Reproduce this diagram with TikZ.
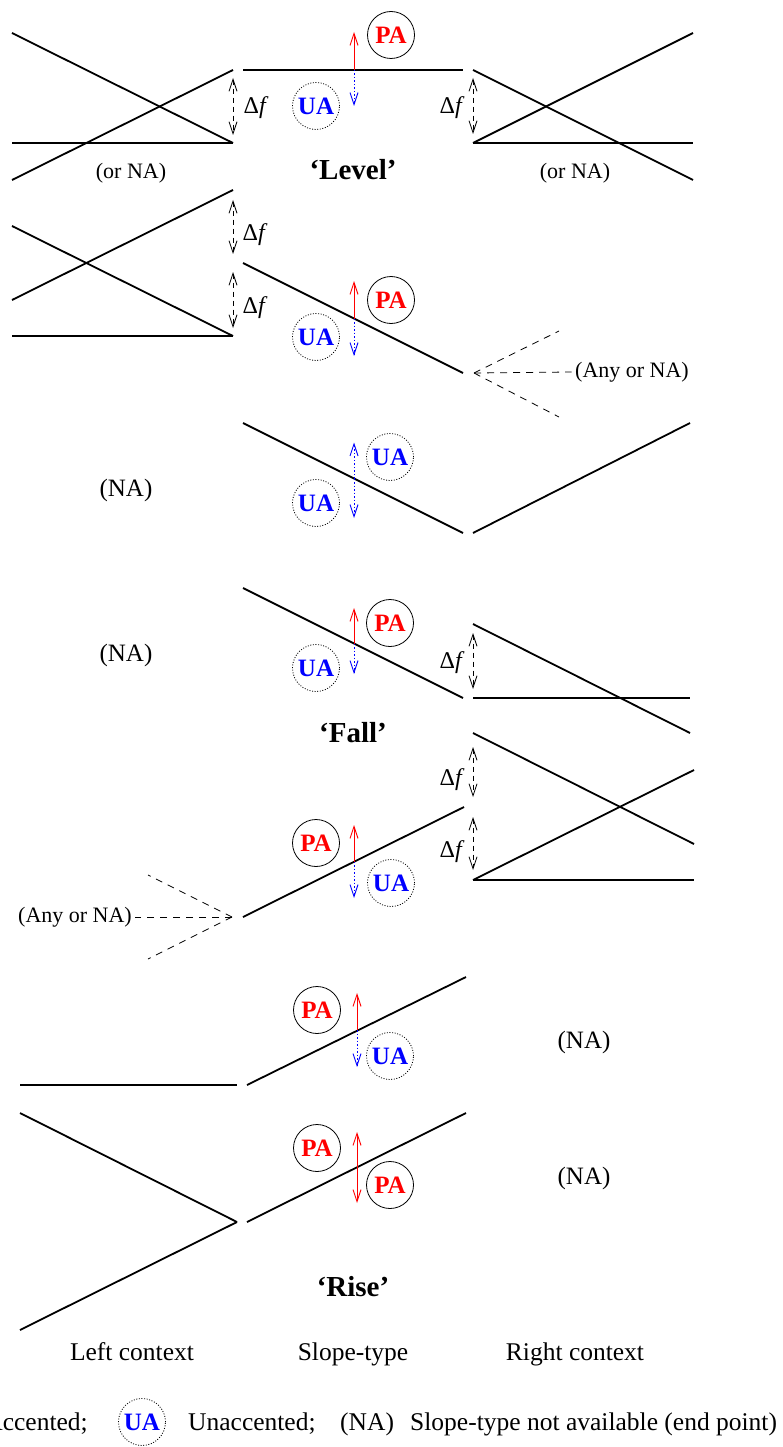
\documentclass[tikz,border=0pt]{standalone}
\usepackage{fontspec}
\setmainfont{Liberation Serif}
\usetikzlibrary{arrows.meta}
\usepackage{xcolor}
\definecolor{accred}{HTML}{FF0000}
\definecolor{unaccblue}{HTML}{0000FF}

\begin{document}
\begin{tikzpicture}[x=1pt,y=-1pt,
    contour/.style={line width=1.8pt},
    anyctx/.style={line width=0.8pt,dash pattern=on 7pt off 6pt},
    barb/.style={-{Straight Barb[length=12pt,width=8pt]}},
    upacc/.style={barb,accred,line width=0.9pt},
    dnunacc/.style={barb,unaccblue,line width=0.9pt,dash pattern=on 1.5pt off 2pt},
    deltaf/.style={{Straight Barb[length=12pt,width=8pt]}-{Straight Barb[length=12pt,width=8pt]},
                   line width=0.8pt,dash pattern=on 5pt off 4pt},
    pamark/.style={circle,draw,line width=0.8pt,minimum size=47pt,inner sep=0pt,
                   text=accred,font=\bfseries\fontsize{25}{25}\selectfont},
    uamark/.style={pamark,text=unaccblue,dash pattern=on 1pt off 1.6pt},
    ctxlabel/.style={font=\fontsize{22}{24}\selectfont},
    nalabel/.style={font=\fontsize{25}{28}\selectfont},
    dflabel/.style={font=\fontsize{24}{26}\selectfont},
    slopename/.style={anchor=base,font=\bfseries\fontsize{29}{32}\selectfont},
    collabel/.style={anchor=base,font=\fontsize{25.5}{28}\selectfont}]
  \useasboundingbox (0,0) rectangle (783,1447);

  % ---- 'Level' ----
  \coordinate (lvS) at (243,70);
  \coordinate (lvE) at (463,70);
  \coordinate (lvA) at (354,70);
  \draw[contour] (lvS) -- (lvE);
  \coordinate (lvLt) at (233,70);
  \coordinate (lvLb) at (233,143);
  \coordinate (lvRt) at (473,70);
  \coordinate (lvRb) at (473,143);
  \draw[contour] (12,33) -- (lvLb);
  \draw[contour] (12,143) -- (lvLb);
  \draw[contour] (12,180) -- (lvLt);
  \draw[contour] (lvRt) -- (693,180);
  \draw[contour] (lvRb) -- (693,143);
  \draw[contour] (lvRb) -- (693,33);
  \draw[deltaf,shorten <=8pt,shorten >=8pt] (lvLt) -- (lvLb);
  \draw[deltaf,shorten <=8pt,shorten >=9pt] (lvRt) -- (lvRb);
  \node[dflabel] (lvDfL) at (256,108) {Δ\textit{f}};
  \node[dflabel] (lvDfR) at (452,108) {Δ\textit{f}};
  \draw[upacc] (lvA) -- ++(0,-38);
  \draw[dnunacc] (lvA) -- ++(0,36);
  \node[pamark] (lvPA) at (391,35) {PA};
  \node[uamark] (lvUA) at (316,106) {UA};
  \node[ctxlabel] (lvNAL) at (131,173) {(or NA)};
  \node[ctxlabel] (lvNAR) at (575,173) {(or NA)};
  \node[slopename] (lvName) at (353,180) {‘Level’};

  % ---- 'Fall' from a rise or fall ----
  \coordinate (faS) at (243,263);
  \coordinate (faE) at (463,373);
  \coordinate (faA) at (354,318.5);
  \draw[contour] (faS) -- (faE);
  \coordinate (faLt) at (233,190);
  \coordinate (faLm) at (233,263);
  \coordinate (faLb) at (233,336);
  \draw[contour] (12,300) -- (faLt);
  \draw[contour] (12,226) -- (faLb);
  \draw[contour] (12,336) -- (faLb);
  \draw[deltaf,shorten <=10pt,shorten >=9pt] (faLt) -- (faLm);
  \draw[deltaf,shorten <=9pt,shorten >=8pt] (faLm) -- (faLb);
  \node[dflabel] (faDfU) at (255,235) {Δ\textit{f}};
  \node[dflabel] (faDfD) at (255,308) {Δ\textit{f}};
  \draw[upacc] (faA) -- ++(0,-37.5);
  \draw[dnunacc] (faA) -- ++(0,37.5);
  \node[pamark] (faPA) at (391,300) {PA};
  \node[uamark] (faUA) at (316,337) {UA};
  \coordinate (faFork) at (474,373);
  \node[ctxlabel] (faAny) at (632,372) {(Any or NA)};
  \draw[anyctx] (faFork) -- (559,331);
  \draw[anyctx] (faFork) -- (faAny.west);
  \draw[anyctx] (faFork) -- (559,417);

  % ---- fall at the start, rise after ----
  \coordinate (vaS) at (243,423);
  \coordinate (vaE) at (463,533);
  \coordinate (vaA) at (354,478.5);
  \draw[contour] (vaS) -- (vaE);
  \draw[contour] (473,533) -- (690,423);
  \draw[dnunacc] (vaA) -- ++(0,-36);
  \draw[dnunacc] (vaA) -- ++(0,39.5);
  \node[uamark] (vaUAu) at (390,457) {UA};
  \node[uamark] (vaUAd) at (316,503) {UA};
  \node[nalabel] (vaNA) at (126,490) {(NA)};

  % ---- fall at the start, level or fall after ----
  \coordinate (fbS) at (243,588);
  \coordinate (fbE) at (463,698);
  \coordinate (fbA) at (354,643.5);
  \draw[contour] (fbS) -- (fbE);
  \coordinate (fbRt) at (473,624);
  \coordinate (fbRb) at (473,698);
  \draw[contour] (fbRt) -- (690,733);
  \draw[contour] (fbRb) -- (690,698);
  \draw[deltaf,shorten <=9pt,shorten >=9pt] (fbRt) -- (fbRb);
  \node[dflabel] (fbDf) at (452,663) {Δ\textit{f}};
  \draw[upacc] (fbA) -- ++(0,-35.5);
  \draw[dnunacc] (fbA) -- ++(0,30.5);
  \node[pamark] (fbPA) at (390,623) {PA};
  \node[uamark] (fbUA) at (316,668) {UA};
  \node[nalabel] (fbNA) at (126,655) {(NA)};
  \node[slopename] (fbName) at (353,742) {‘Fall’};

  % ---- rise with a fall, rise or level after ----
  \coordinate (raS) at (243,917);
  \coordinate (raE) at (464,807);
  \coordinate (raA) at (354,861.5);
  \draw[contour] (raS) -- (raE);
  \coordinate (raRt) at (473,733);
  \coordinate (raRm) at (473,807);
  \coordinate (raRb) at (473,880);
  \draw[contour] (raRt) -- (694,844);
  \draw[contour] (raRb) -- (694,770);
  \draw[contour] (raRb) -- (694,880);
  \draw[deltaf,shorten <=14pt,shorten >=10pt] (raRt) -- (raRm);
  \draw[deltaf,shorten <=10pt,shorten >=10pt] (raRm) -- (raRb);
  \node[dflabel] (raDfU) at (452,780) {Δ\textit{f}};
  \node[dflabel] (raDfD) at (452,852) {Δ\textit{f}};
  \draw[upacc] (raA) -- ++(0,-36.5);
  \draw[dnunacc] (raA) -- ++(0,36.5);
  \node[pamark] (raPA) at (316,843) {PA};
  \node[uamark] (raUA) at (391,883) {UA};
  \coordinate (raFork) at (232,917);
  \node[ctxlabel] (raAny) at (75,917) {(Any or NA)};
  \draw[anyctx] (raFork) -- (148,875);
  \draw[anyctx] (raFork) -- (raAny.east);
  \draw[anyctx] (raFork) -- (148,959);

  % ---- rise after a level ----
  \coordinate (rbS) at (247,1085);
  \coordinate (rbE) at (466,977);
  \coordinate (rbA) at (357,1030);
  \draw[contour] (rbS) -- (rbE);
  \draw[contour] (20,1085) -- (237,1085);
  \draw[upacc] (rbA) -- ++(0,-37);
  \draw[dnunacc] (rbA) -- ++(0,37);
  \node[pamark] (rbPA) at (317,1010) {PA};
  \node[uamark] (rbUA) at (390,1056) {UA};
  \node[nalabel] (rbNA) at (584,1042) {(NA)};

  % ---- rise after a fall ----
  \coordinate (rcS) at (247,1222);
  \coordinate (rcE) at (466,1113);
  \coordinate (rcA) at (357,1167);
  \draw[contour] (rcS) -- (rcE);
  \coordinate (rcL) at (237,1222);
  \draw[contour] (20,1113) -- (rcL);
  \draw[contour] (rcL) -- (20,1330);
  \draw[upacc] (rcA) -- ++(0,-35);
  \draw[upacc] (rcA) -- ++(0,36);
  \node[pamark] (rcPAu) at (317,1148) {PA};
  \node[pamark] (rcPAd) at (390,1185) {PA};
  \node[nalabel] (rcNA) at (584,1178) {(NA)};
  \node[slopename] (rcName) at (353,1296) {‘Rise’};

  % column heads
  \node[collabel] (colL) at (132,1360) {Left context};
  \node[collabel] (colM) at (353,1360) {Slope-type};
  \node[collabel] (colR) at (575,1360) {Right context};

  % key
  \node[collabel,anchor=base east,inner sep=0pt] (keyPA) at (88,1430) {Accented;};
  \node[uamark] (keyUA) at (142,1422) {UA};
  \node[collabel,anchor=base west,inner sep=0pt] (keyUAt) at (188,1430) {Unaccented;};
  \node[collabel,anchor=base west,inner sep=0pt] (keyNA) at (340,1430) {(NA)};
  \node[collabel,anchor=base west,inner sep=0pt] (keyNAt) at (410,1430) {Slope-type not available (end point)};
\end{tikzpicture}
\end{document}
